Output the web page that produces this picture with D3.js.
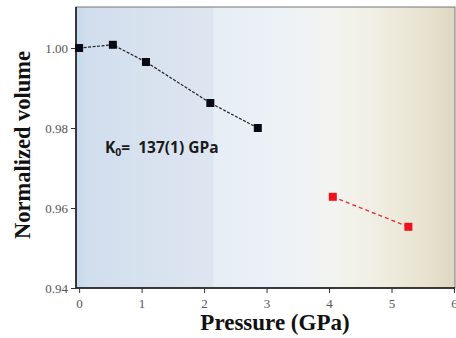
<!DOCTYPE html>
<html><head><meta charset="utf-8">
<script src="https://cdn.jsdelivr.net/npm/d3@7"></script>
<style>body{margin:0;background:#fff}svg{display:block}
.tick text{font-family:"Liberation Serif","Times New Roman",serif !important;font-size:13px}</style>
</head><body>
<svg id="c" width="456" height="338"></svg>
<script>
const blackP = [0, 0.54, 1.07, 2.10, 2.86];
const blackV = [1.0000, 1.0008, 0.9965, 0.98625, 0.9800];
const redP = [4.06, 5.27];
const redV = [0.9628, 0.9553];
const xTicks = [0, 1, 2, 3, 4, 5, 6];
const yTicks = [0.94, 0.96, 0.98, 1.00];

const svg = d3.select("#c");
const L = 76, R = 455, T = 7, B = 288;
const x = d3.scaleLinear().domain([-0.05, 6]).range([L, 454]);
const y = d3.scaleLinear().domain([0.94, 1.00]).range([B, 48]);

const defs = svg.append("defs");
const g = defs.append("linearGradient").attr("id", "bg");
[[0, "#c4d8ee"], [0.03, "#d1deed"], [0.2, "#d8e2ef"], [0.36, "#dde6f0"], [0.365, "#e6edf5"], [0.55, "#edf2f6"], [0.68, "#f3f4f0"], [0.8, "#f0eee2"], [0.92, "#e8e3d0"], [1, "#ddd6c1"]]
  .forEach(([o, c]) => g.append("stop").attr("offset", o).attr("stop-color", c));
svg.append("rect").attr("x", L).attr("y", T).attr("width", R - L).attr("height", B - T).attr("fill", "url(#bg)");
svg.append("rect").attr("x", L).attr("y", T).attr("width", R - L).attr("height", B - T)
  .attr("fill", "none").attr("stroke", "#777").attr("stroke-width", 1);

const xa = svg.append("g").attr("transform", `translate(0,${B})`)
  .call(d3.axisBottom(x).tickValues(xTicks).tickFormat(d3.format("d")).tickSize(5).tickSizeOuter(0));
const ya = svg.append("g").attr("transform", `translate(${L},0)`)
  .call(d3.axisLeft(y).tickValues(yTicks).tickFormat(d3.format(".2f")).tickSize(5).tickSizeOuter(0));
[xa, ya].forEach(a => {
  a.attr("font-family", "Liberation Serif").attr("font-size", 13);
  a.select(".domain").attr("stroke", "#111").attr("stroke-width", 1.5);
  a.selectAll(".tick line").attr("stroke", "#333");
  a.selectAll("text").attr("fill", "#555");
});
ya.select(".domain").attr("d", `M0,${T}V${B}`);
xa.select(".domain").attr("d", `M${L},0H${R}`);
xa.selectAll("text").attr("dy", "0.95em");

const line = d3.line().x(d => x(d[0])).y(d => y(d[1]));
const bd = blackP.map((p, i) => [p, blackV[i]]);
const rd = redP.map((p, i) => [p, redV[i]]);
svg.append("path").attr("d", line(bd)).attr("fill", "none").attr("stroke", "#222").attr("stroke-width", 1.2).attr("stroke-dasharray", "3,1.5");
svg.append("path").attr("d", line(rd)).attr("fill", "none").attr("stroke", "#e8303a").attr("stroke-width", 1.4).attr("stroke-dasharray", "4,3");
const s = 8;
svg.selectAll(".bp").data(bd).enter().append("rect")
  .attr("x", d => x(d[0]) - s / 2).attr("y", d => y(d[1]) - s / 2).attr("width", s).attr("height", s).attr("fill", "#0a0a14");
svg.selectAll(".rp").data(rd).enter().append("rect")
  .attr("x", d => x(d[0]) - s / 2).attr("y", d => y(d[1]) - s / 2).attr("width", s).attr("height", s).attr("fill", "#f0101e");

const k = svg.append("text").attr("x", 105).attr("y", 153).attr("font-family", "Open Sans, sans-serif")
  .attr("font-weight", "bold").attr("font-size", 15.5).attr("fill", "#1a1a1a");
k.append("tspan").text("K");
k.append("tspan").attr("font-size", 10.5).attr("dy", 3).text("0");
k.append("tspan").attr("dy", -3).text("=\u00a0 137(1) GPa");

svg.append("text").attr("x", 275).attr("y", 330).attr("text-anchor", "middle")
  .attr("font-family", "Liberation Serif, serif").attr("font-weight", "bold").attr("font-size", 23).attr("fill", "#111")
  .text("Pressure (GPa)");
svg.append("text").attr("transform", "translate(30,145) rotate(-90)").attr("text-anchor", "middle")
  .attr("font-family", "Liberation Serif, serif").attr("font-weight", "bold").attr("font-size", 22.5).attr("fill", "#111")
  .text("Normalized volume");
</script>
</body></html>
